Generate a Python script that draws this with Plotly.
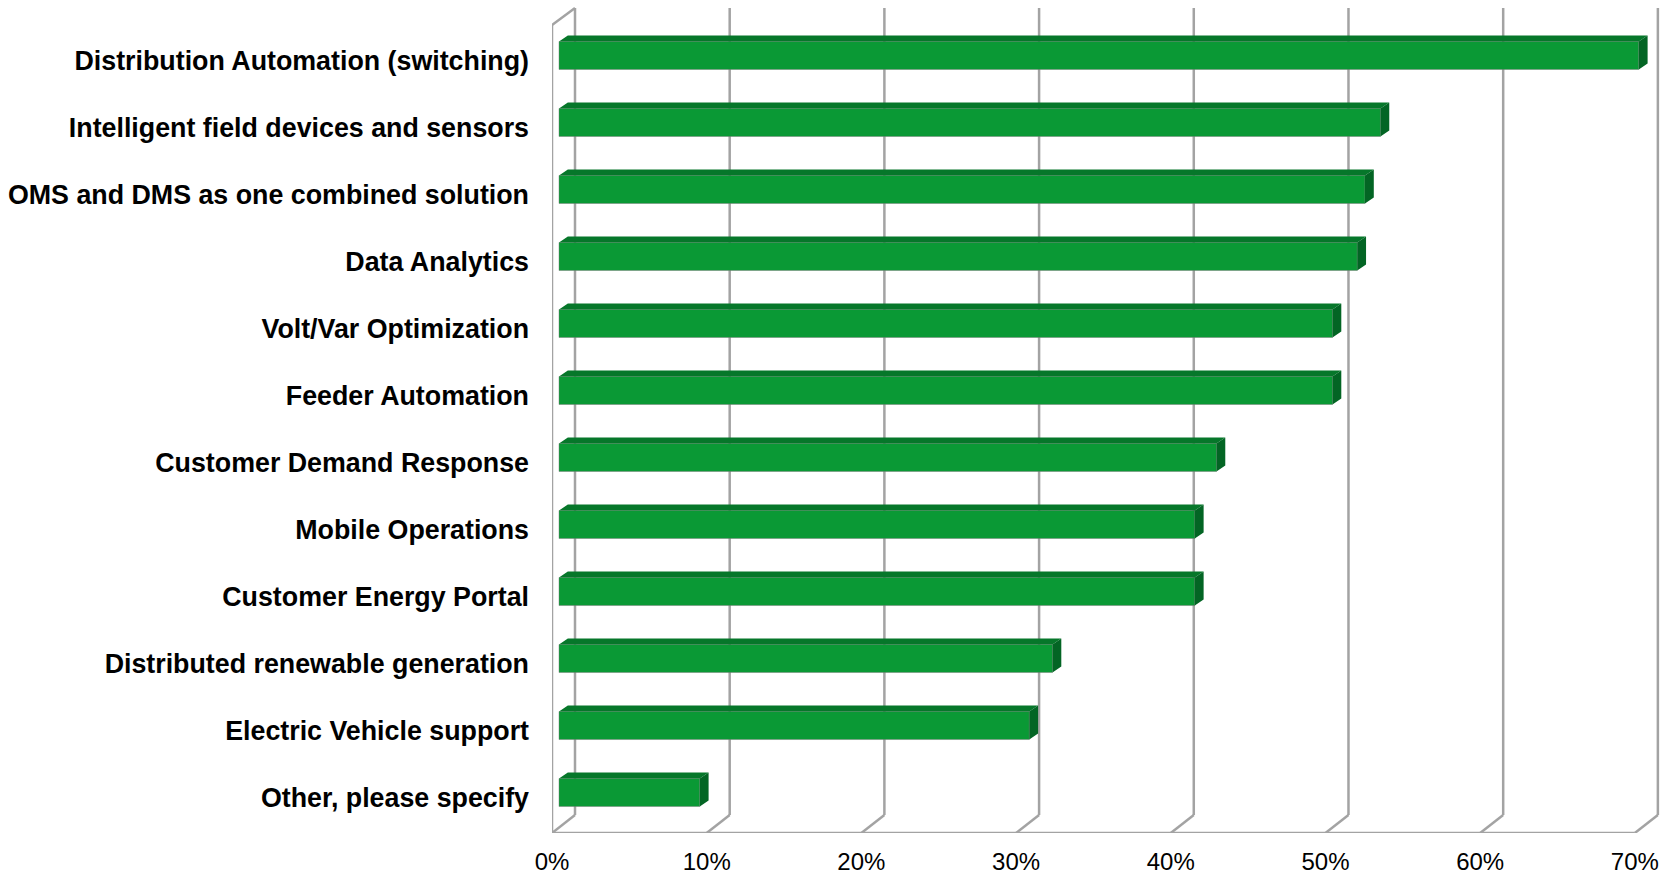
import plotly.graph_objects as go

# Survey results: share of respondents per grid technology (percent)
categories = [
    "Distribution Automation (switching)",
    "Intelligent field devices and sensors",
    "OMS and DMS as one combined solution",
    "Data Analytics",
    "Volt/Var Optimization",
    "Feeder Automation",
    "Customer Demand Response",
    "Mobile Operations",
    "Customer Energy Portal",
    "Distributed renewable generation",
    "Electric Vehicle support",
    "Other, please specify",
]
values = [69.8, 53.1, 52.1, 51.6, 50.0, 50.0, 42.5, 41.1, 41.1, 31.9, 30.4, 9.1]
x_ticks = [0, 10, 20, 30, 40, 50, 60, 70]
x_tick_text = ["0%", "10%", "20%", "30%", "40%", "50%", "60%", "70%"]

# Pseudo-3D geometry (oblique projection), in axis units
FRONT_DX = -0.4525   # front floor edge, relative to the bar plane (percent)
BACK_DX = 1.034      # back wall, relative to the bar plane (percent)
FLOOR_FRONT_Y = 11.522
FLOOR_BACK_Y = 11.254
WALL_TOP_BACK_Y = -0.791
WALL_TOP_FRONT_Y = -0.537
BAR_WIDTH = 0.418
BAR_SHIFT = -0.082   # bars sit slightly behind the label plane
BAR_DX = 0.57        # bar depth along x (percent)
BAR_DY = -0.09       # bar depth along y (category units)

FACE = "#0a9935"
TOP = "#06772a"
SIDE = "#036524"
GRID = "#a3a3a3"

pos = list(range(len(categories)))

fig = go.Figure()

# Front faces of the bars
fig.add_trace(go.Bar(
    x=values, y=pos, orientation="h",
    width=BAR_WIDTH, offset=-BAR_WIDTH / 2 + BAR_SHIFT,
    marker=dict(color=FACE, line=dict(color="rgba(120,120,120,0.45)", width=1)),
    hoverinfo="skip", showlegend=False,
))

# Top and side faces for the depth effect
top_x, top_y, side_x, side_y = [], [], [], []
for p, v in zip(pos, values):
    yt = p + BAR_SHIFT - BAR_WIDTH / 2
    yb = p + BAR_SHIFT + BAR_WIDTH / 2
    top_x += [0, v, v + BAR_DX, BAR_DX, 0, None]
    top_y += [yt, yt, yt + BAR_DY, yt + BAR_DY, yt, None]
    side_x += [v, v, v + BAR_DX, v + BAR_DX, v, None]
    side_y += [yt, yb, yb + BAR_DY, yt + BAR_DY, yt, None]

fig.add_trace(go.Scatter(x=top_x, y=top_y, mode="lines", fill="toself",
                         fillcolor=TOP, line=dict(width=0, color=TOP),
                         hoverinfo="skip", showlegend=False))
fig.add_trace(go.Scatter(x=side_x, y=side_y, mode="lines", fill="toself",
                         fillcolor=SIDE, line=dict(width=0, color=SIDE),
                         hoverinfo="skip", showlegend=False))

# Walls and floor
shapes = []
line = dict(color=GRID, width=2.5)
for t in x_ticks:
    # back-wall gridline
    shapes.append(dict(type="line", xref="x", yref="y", layer="below",
                       x0=t + BACK_DX, x1=t + BACK_DX,
                       y0=WALL_TOP_BACK_Y, y1=FLOOR_BACK_Y, line=line))
    # floor connector to the front edge
    shapes.append(dict(type="line", xref="x", yref="y", layer="below",
                       x0=t + BACK_DX, x1=t + FRONT_DX,
                       y0=FLOOR_BACK_Y, y1=FLOOR_FRONT_Y, line=line))
# front edge of the floor
shapes.append(dict(type="line", xref="x", yref="y", layer="below",
                   x0=x_ticks[0] + FRONT_DX, x1=x_ticks[-1] + FRONT_DX,
                   y0=FLOOR_FRONT_Y, y1=FLOOR_FRONT_Y, line=line))
# left side wall
shapes.append(dict(type="line", xref="x", yref="y", layer="below",
                   x0=x_ticks[0] + FRONT_DX, x1=x_ticks[0] + FRONT_DX,
                   y0=WALL_TOP_FRONT_Y, y1=FLOOR_FRONT_Y, line=line))
shapes.append(dict(type="line", xref="x", yref="y", layer="below",
                   x0=x_ticks[0] + FRONT_DX, x1=x_ticks[0] + BACK_DX,
                   y0=WALL_TOP_FRONT_Y, y1=WALL_TOP_BACK_Y, line=line))

fig.update_layout(
    width=1674, height=875,
    margin=dict(l=552, r=10, t=0, b=42, autoexpand=False),
    paper_bgcolor="white", plot_bgcolor="white",
    shapes=shapes,
    xaxis=dict(
        range=[FRONT_DX, 71.43],
        tickvals=[t + FRONT_DX for t in x_ticks],
        ticktext=x_tick_text,
        showgrid=False, zeroline=False, showline=False, automargin=False,
        ticks="", ticklabelstandoff=12,
        tickfont=dict(family="Liberation Sans", size=24, color="#000000"),
    ),
    yaxis=dict(
        range=[FLOOR_FRONT_Y, -0.910],
        tickvals=pos, ticktext=categories,
        showgrid=False, zeroline=False, showline=False, automargin=False,
        ticks="", ticklabelstandoff=22,
        tickfont=dict(family="Liberation Sans", size=26.8, color="#000000",
                      weight="bold"),
    ),
)

fig.write_html("out.html")
